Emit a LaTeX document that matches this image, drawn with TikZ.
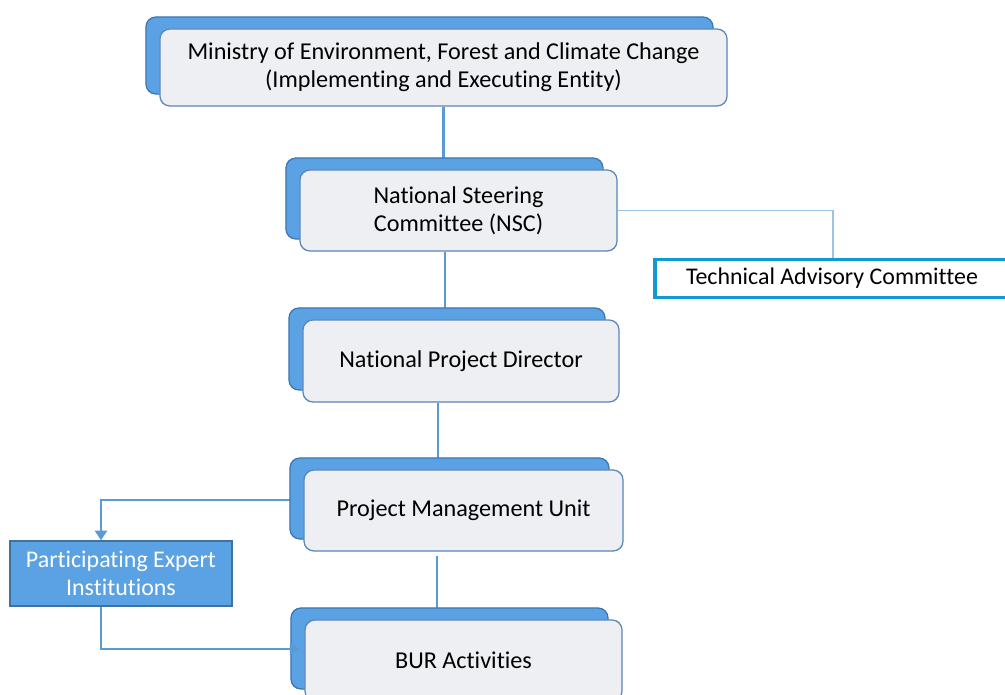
\documentclass[tikz,border=0pt]{standalone}
\usepackage{fontspec}
\setmainfont[Ligatures=NoCommon]{Carlito}
\usetikzlibrary{arrows.meta,shadows,backgrounds}
\definecolor{backblue}{HTML}{5AA2E3}
\definecolor{backedge}{HTML}{3D76B3}
\definecolor{frontfill}{HTML}{EDEFF2}
\definecolor{frontedge}{HTML}{5A86B8}
\definecolor{linkblue}{HTML}{5B9BD5}
\definecolor{lightlink}{HTML}{9DC3E6}
\definecolor{tacblue}{HTML}{1199D6}
\definecolor{peiedge}{HTML}{41719C}

\begin{document}
\begin{tikzpicture}[x=0.025cm,y=-0.025cm,
    unit/.style={draw=frontedge,line width=0.9pt,fill=frontfill,rounded corners=0.25cm,
        align=center,inner sep=0pt,font=\fontsize{17.2}{20}\selectfont,
        copy shadow={shadow xshift=-0.35cm,shadow yshift=0.3cm,fill=backblue,
            draw=backedge,line width=0.9pt,opacity=1}},
    link/.style={draw=linkblue,line width=1.8pt},
    arrowlink/.style={link,-{Triangle[length=2.4mm,width=3mm]}}]
\useasboundingbox (0,0) rectangle (1005,695);
\clip (0,0) rectangle (1005,695);

% chain of units
\node[unit,minimum width=14.175cm,minimum height=1.925cm] (ministry) at (443.5,67.5)
    {Ministry of Environment, Forest and Climate Change\\(Implementing and Executing Entity)};
\node[unit,minimum width=7.925cm,minimum height=2.025cm] (nsc) at (458.5,210.5)
    {National Steering\\Committee (NSC)};
\node[unit,minimum width=7.9cm,minimum height=2.05cm] (npd) at (461,361)
    {National Project Director};
\node[unit,minimum width=7.975cm,minimum height=2.025cm] (pmu) at (463.5,510.5)
    {Project Management Unit};
\node[unit,minimum width=7.925cm,minimum height=2.025cm] (bur) at (463.5,660.5)
    {BUR Activities};

% side boxes
\node[draw=tacblue,line width=2.6pt,fill=white,minimum width=8.9cm,minimum height=0.95cm,
    inner sep=0pt,font=\fontsize{17}{20}\selectfont] (tac) at (833,278.5)
    {\hspace*{-0.05cm}Technical Advisory Committee};
\node[draw=peiedge,line width=1pt,fill=backblue,text=white,minimum width=5.55cm,
    minimum height=1.625cm,inner sep=0pt,align=center,
    font=\fontsize{17}{20}\selectfont] (pei) at (121,573.5)
    {Participating Expert\\Institutions};

\begin{scope}[on background layer]
\draw[link] (ministry.south) -- (ministry.south |- nsc.north);
\draw[link] ([xshift=-0.34cm]nsc.south) -- ([xshift=-0.34cm]nsc.south |- npd.north);
\draw[link] ([xshift=-0.575cm]npd.south) -- ([xshift=-0.575cm]npd.south |- pmu.north);
\draw[link] ([xshift=-0.665cm,yshift=-0.12cm]pmu.south) -- ([xshift=-0.665cm]pmu.south |- bur.north);
\draw[draw=lightlink,line width=0.8pt] (nsc.east) -| (tac.north);
\draw[arrowlink] ([yshift=0.26cm]pmu.west) -| ([xshift=-0.5cm]pei.north);
\end{scope}
\draw[arrowlink] ([xshift=-0.5cm]pei.south) |- ([xshift=-0.12cm,yshift=0.29cm]bur.west);
\end{tikzpicture}
\end{document}
